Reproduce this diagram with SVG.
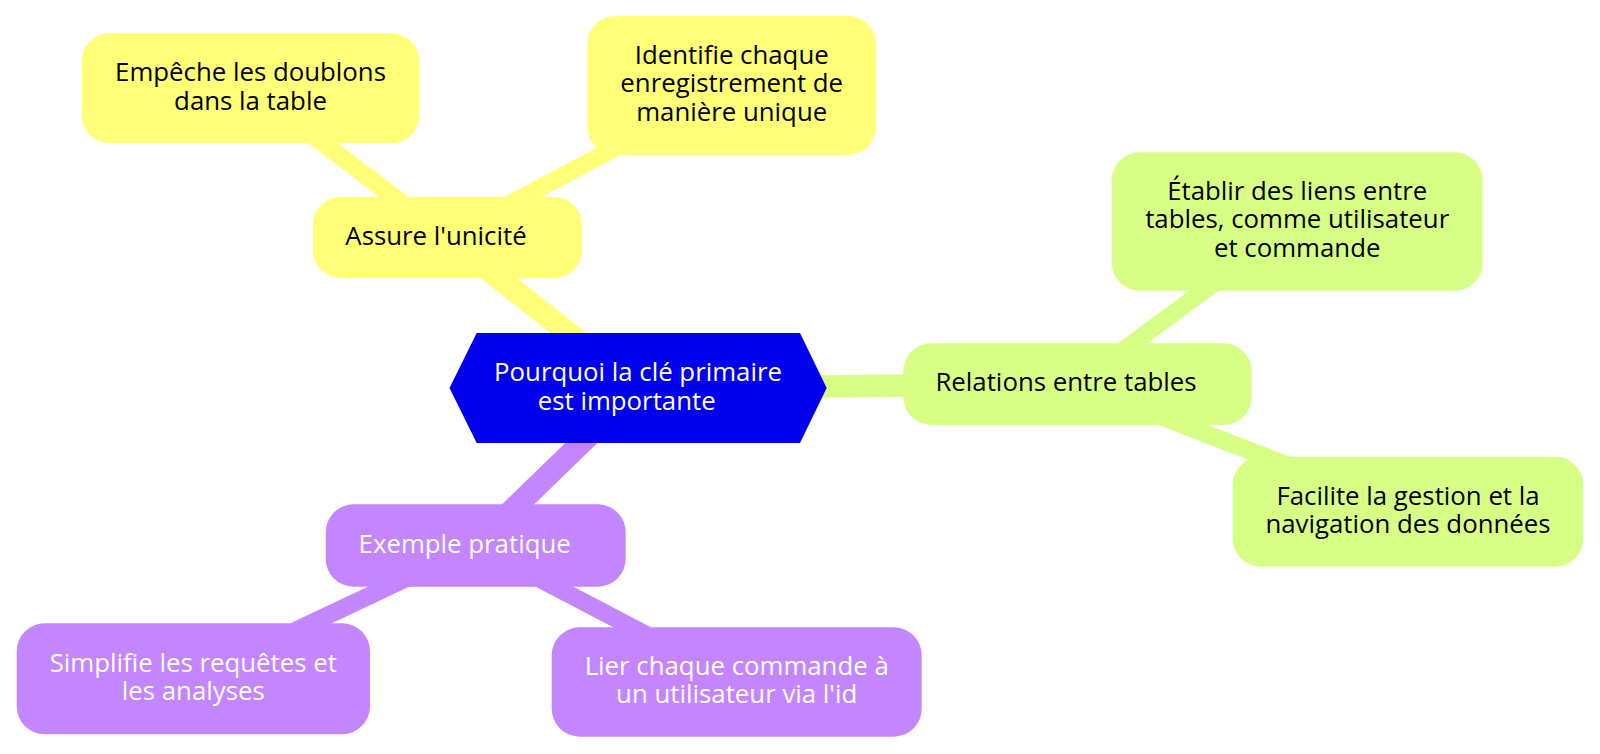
<svg xmlns="http://www.w3.org/2000/svg" width="1600" height="754" viewBox="0 0 1600 754">
<style>
  text { font-family: "Open Sans", "Noto Sans", "Liberation Sans", sans-serif; font-size: 25.8px; text-anchor: middle; }
  .dark { fill: #000000; }
  .light { fill: #ffffff; }
  .yellow { fill: #ffff78; }
  .green { fill: #d7ff86; }
  .purple { fill: #c386ff; }
  .root { fill: #0000ec; }
  .e { fill: none; stroke-linecap: butt; }
  .d1 { stroke-width: 22.4; }
  .d2 { stroke-width: 17.6; }
  .ey { stroke: #ffff78; }
  .eg { stroke: #d7ff86; }
  .ep { stroke: #c386ff; }
</style>
<rect x="0" y="0" width="1600" height="754" fill="#ffffff"/>
<g id="connectors">
  <line class="e d1 ey" x1="638" y1="388" x2="447.5" y2="237.5"/>
  <line class="e d2 ey" x1="447.5" y1="237.5" x2="250.5" y2="88.3"/>
  <line class="e d2 ey" x1="447.5" y1="237.5" x2="731.7" y2="85.5"/>
  <line class="e d1 eg" x1="638" y1="388" x2="1077.4" y2="384.2"/>
  <line class="e d2 eg" x1="1077.4" y1="384.2" x2="1297.2" y2="221.5"/>
  <line class="e d2 eg" x1="1077.4" y1="384.2" x2="1408" y2="511.7"/>
  <line class="e d1 ep" x1="638" y1="388" x2="475.7" y2="545.5"/>
  <line class="e d2 ep" x1="475.7" y1="545.5" x2="193.3" y2="678.8"/>
  <line class="e d2 ep" x1="475.7" y1="545.5" x2="736.7" y2="682"/>
</g>
<g id="root">
  <polygon class="root" points="449.5,388 476.7,333 800,333 826.7,388 800,443 476.7,443"/>
  <text class="light" x="638" y="381">Pourquoi la clé primaire</text>
  <text class="light" x="626.7" y="410">est importante</text>
</g>
<g id="assure">
  <rect class="yellow" x="313" y="197" width="269" height="81" rx="28"/>
  <text class="dark" x="436" y="245">Assure l'unicité</text>
</g>
<g id="empeche">
  <rect class="yellow" x="81.7" y="33.3" width="337.6" height="110" rx="28"/>
  <text class="dark" x="250.5" y="81.3">Empêche les doublons</text>
  <text class="dark" x="250.5" y="109.6">dans la table</text>
</g>
<g id="identifie">
  <rect class="yellow" x="587.3" y="16" width="288.7" height="139" rx="28"/>
  <text class="dark" x="731.7" y="64.3">Identifie chaque</text>
  <text class="dark" x="731.7" y="92.4">enregistrement de</text>
  <text class="dark" x="731.7" y="120.5">manière unique</text>
</g>
<g id="relations">
  <rect class="green" x="903.2" y="343.3" width="348.5" height="81.7" rx="28"/>
  <text class="dark" x="1066" y="390.5">Relations entre tables</text>
</g>
<g id="etablir">
  <rect class="green" x="1111.7" y="152.3" width="371" height="138.4" rx="28"/>
  <text class="dark" x="1297.2" y="200">Établir des liens entre</text>
  <text class="dark" x="1297.2" y="228.4">tables, comme utilisateur</text>
  <text class="dark" x="1297.2" y="256.8">et commande</text>
</g>
<g id="facilite">
  <rect class="green" x="1232.7" y="456.7" width="350.6" height="110" rx="28"/>
  <text class="dark" x="1408" y="504.5">Facilite la gestion et la</text>
  <text class="dark" x="1408" y="533">navigation des données</text>
</g>
<g id="exemple">
  <rect class="purple" x="325.7" y="504.3" width="300" height="82.4" rx="28"/>
  <text class="light" x="464.7" y="552.7">Exemple pratique</text>
</g>
<g id="simplifie">
  <rect class="purple" x="16.7" y="623.3" width="353.3" height="111" rx="28"/>
  <text class="light" x="193.3" y="671.5">Simplifie les requêtes et</text>
  <text class="light" x="193.3" y="699.8">les analyses</text>
</g>
<g id="lier">
  <rect class="purple" x="551.7" y="627.3" width="370" height="109.4" rx="28"/>
  <text class="light" x="736.7" y="674.8">Lier chaque commande à</text>
  <text class="light" x="736.7" y="703.1">un utilisateur via l'id</text>
</g>
</svg>
